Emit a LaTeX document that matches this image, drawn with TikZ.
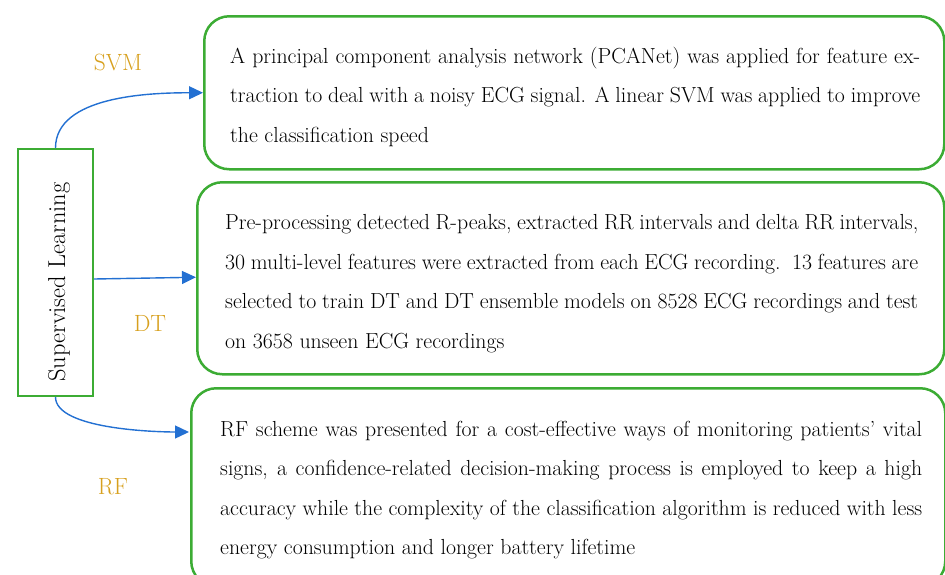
\documentclass[tikz,border=0pt]{standalone}
\usetikzlibrary{arrows.meta}
\definecolor{boxgreen}{RGB}{60,172,52}
\definecolor{arrblue}{RGB}{35,112,210}
\definecolor{lblorange}{RGB}{215,160,30}
\begin{document}
\begin{tikzpicture}[x=1pt,y=-1pt,
  gbox/.style={draw=boxgreen,line width=2.5pt,rounded corners=25pt,inner sep=0pt,anchor=north west},
  slbox/.style={draw=boxgreen,line width=2pt,inner sep=0pt},
  txt/.style={inner sep=0pt,anchor=base west,font=\fontsize{21.8}{25}\selectfont},
  lbl/.style={inner sep=0pt,text=lblorange,font=\fontsize{23.5}{26}\selectfont},
  conn/.style={draw=arrblue,line width=1.4pt,-{Triangle[length=14pt,width=13pt]}}]
\useasboundingbox (0,0) rectangle (945,574);
\clip (0,0) rectangle (945,574);
% boxes
\node[gbox,minimum width=740pt,minimum height=153pt] (b1) at (203,15) {};
\node[gbox,minimum width=747pt,minimum height=192pt] (b2) at (196,181) {};
\node[gbox,minimum width=754pt,minimum height=198pt] (b3) at (190,387) {};
\node[slbox,minimum width=75pt,minimum height=247pt] (sl) at (55.5,272.5) {};
\node[inner sep=0pt,rotate=90,font=\fontsize{24.4}{27}\selectfont] (slt) at (59,282) {Supervised Learning};
% labels
\node[lbl] (svm) at (118,62) {SVM};
\node[lbl] (dt) at (150,323) {DT};
\node[lbl] (rf) at (113,487) {RF};
% box 1 text
\node[txt] (t11) at (230,63) {\makebox[690pt][s]{A principal component analysis network (PCANet) was applied for feature ex-}};
\node[txt] (t12) at (230,102.5) {\makebox[690pt][s]{traction to deal with a noisy ECG signal. A linear SVM was applied to improve}};
\node[txt] (t13) at (230,142) {the classification speed};
% box 2 text
\node[txt] (t21) at (225,229.5) {\makebox[693pt][s]{Pre-processing detected R-peaks, extracted RR intervals and delta RR intervals,}};
\node[txt] (t22) at (225,269) {\makebox[693pt][s]{30 multi-level features were extracted from each ECG recording.\ \ 13 features are}};
\node[txt] (t23) at (225,308.5) {\makebox[693pt][s]{selected to train DT and DT ensemble models on 8528 ECG recordings and test}};
\node[txt] (t24) at (225,348) {on 3658 unseen ECG recordings};
% box 3 text
\node[txt] (t31) at (220,436) {\makebox[702pt][s]{RF scheme was presented for a cost-effective ways of monitoring patients' vital}};
\node[txt] (t32) at (220,475.5) {\makebox[702pt][s]{signs, a confidence-related decision-making process is employed to keep a high}};
\node[txt] (t33) at (220,515) {\makebox[702pt][s]{accuracy while the complexity of the classification algorithm is reduced with less}};
\node[txt] (t34) at (220,554.5) {energy consumption and longer battery lifetime};
% connectors
\coordinate (rfend) at (189,432);
\draw[conn] (sl.north) to[out=90,in=180,looseness=0.85] (b1.west);
\draw[conn] ([yshift=-6.5pt]sl.east) -- ([yshift=1pt]b2.west);
\draw[conn] (sl.south) to[out=-90,in=180,looseness=0.6] (rfend);
\end{tikzpicture}
\end{document}
